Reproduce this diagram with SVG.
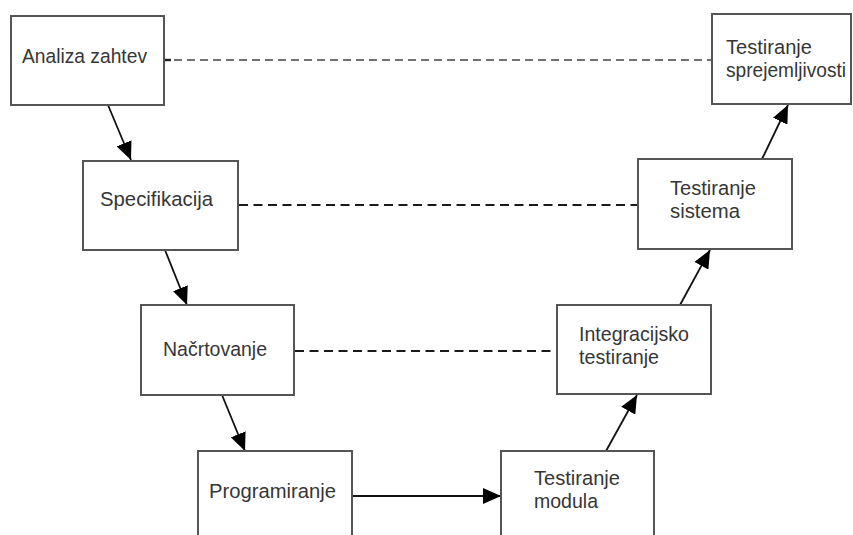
<svg xmlns="http://www.w3.org/2000/svg" width="853" height="535" viewBox="0 0 853 535">
  <defs>
    <marker id="arrow" markerUnits="userSpaceOnUse" markerWidth="18" markerHeight="16" refX="18" refY="8" orient="auto">
      <path d="M0,0 L18,8 L0,16 z" fill="#000"/>
    </marker>
    <style>
      .box { fill: #fff; stroke: #555; stroke-width: 2; }
      .lbl { font-family: "Liberation Sans", Arial, sans-serif; font-size: 20.5px; fill: #363636; }
      .flow { stroke: #111; stroke-width: 1.8; fill: none; marker-end: url(#arrow); }
      .trace { stroke: #444; stroke-width: 1.5; stroke-dasharray: 8 5; fill: none; }
      .trace-b { stroke: #1a1a1a; stroke-width: 2.2; stroke-dasharray: 9 5.5; fill: none; }
    </style>
  </defs>
  <rect width="853" height="535" fill="#fff"/>

  <!-- connectors: development flow and verification links -->
  <g id="connectors">
    <line x1="164" y1="60" x2="171" y2="60" stroke="#222" stroke-width="2.4"/>
    <line class="trace" x1="174" y1="60" x2="711" y2="60"/>
    <line class="trace-b" x1="239" y1="205" x2="637" y2="205"/>
    <line class="trace-b" x1="295" y1="351" x2="556" y2="351"/>
    <line class="flow" x1="108" y1="105" x2="131" y2="160"/>
    <line class="flow" x1="165" y1="250" x2="187" y2="305"/>
    <line class="flow" x1="222" y1="395" x2="245" y2="451"/>
    <line class="flow" x1="352" y1="496" x2="501" y2="496"/>
    <line class="flow" x1="606" y1="451" x2="637" y2="395"/>
    <line class="flow" x1="680" y1="305" x2="710" y2="250"/>
    <line class="flow" x1="762" y1="159" x2="788" y2="105"/>
  </g>

  <g id="analiza">
    <rect class="box" x="11" y="16" width="153" height="89"/>
    <text class="lbl" x="22" y="63" textLength="125" lengthAdjust="spacingAndGlyphs">Analiza zahtev</text>
  </g>
  <g id="specifikacija">
    <rect class="box" x="83" y="161" width="155" height="89"/>
    <text class="lbl" x="100" y="206" textLength="113" lengthAdjust="spacingAndGlyphs">Specifikacija</text>
  </g>
  <g id="nacrtovanje">
    <rect class="box" x="141" y="305" width="153" height="90"/>
    <text class="lbl" x="163" y="356" textLength="104" lengthAdjust="spacingAndGlyphs">Načrtovanje</text>
  </g>
  <g id="programiranje">
    <rect class="box" x="198" y="451" width="154" height="100"/>
    <text class="lbl" x="209" y="498" textLength="127" lengthAdjust="spacingAndGlyphs">Programiranje</text>
  </g>
  <g id="testiranje-modula">
    <rect class="box" x="501" y="451" width="153" height="100"/>
    <text class="lbl" x="534" y="485" textLength="86" lengthAdjust="spacingAndGlyphs">Testiranje</text>
    <text class="lbl" x="534" y="508" textLength="64" lengthAdjust="spacingAndGlyphs">modula</text>
  </g>
  <g id="integracijsko">
    <rect class="box" x="557" y="305" width="154" height="89"/>
    <text class="lbl" x="579" y="341" textLength="110" lengthAdjust="spacingAndGlyphs">Integracijsko</text>
    <text class="lbl" x="579" y="364" textLength="80" lengthAdjust="spacingAndGlyphs">testiranje</text>
  </g>
  <g id="testiranje-sistema">
    <rect class="box" x="638" y="159" width="154" height="90"/>
    <text class="lbl" x="670" y="195" textLength="86" lengthAdjust="spacingAndGlyphs">Testiranje</text>
    <text class="lbl" x="670" y="218" textLength="70" lengthAdjust="spacingAndGlyphs">sistema</text>
  </g>
  <g id="testiranje-sprejemljivosti">
    <rect class="box" x="712" y="14" width="139" height="90"/>
    <text class="lbl" x="726" y="54" textLength="86" lengthAdjust="spacingAndGlyphs">Testiranje</text>
    <text class="lbl" x="726" y="77" textLength="120" lengthAdjust="spacingAndGlyphs">sprejemljivosti</text>
  </g>
</svg>
